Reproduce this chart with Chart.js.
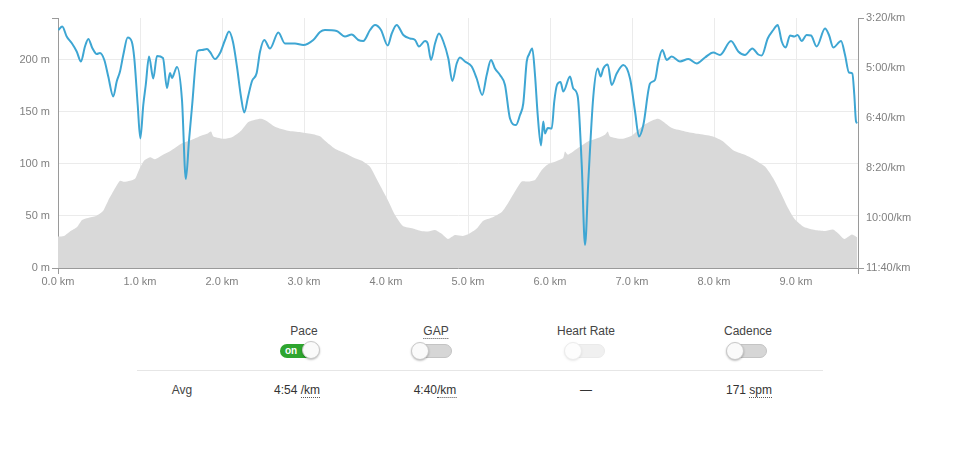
<!DOCTYPE html>
<html>
<head>
<meta charset="utf-8">
<script src="https://cdn.jsdelivr.net/npm/chart.js@4"></script>
<style>
  html,body{margin:0;padding:0;background:#fff;font-family:"Liberation Sans",Arial,sans-serif;}
  #wrap{position:absolute;left:0;top:0;width:962px;height:290px;}
  .lbl{position:absolute;font-size:12px;color:#444;transform:translateX(-50%);white-space:nowrap;top:324px;}
  .val{position:absolute;font-size:12px;color:#333;transform:translateX(-50%);white-space:nowrap;top:383px;}
  .dot{border-bottom:1px dotted #555;}
  .tog{position:absolute;top:344px;width:38px;height:14px;border-radius:8px;transform:translateX(-50%);}
  .knob{position:absolute;top:-3px;width:18px;height:18px;border-radius:50%;background:#fafafa;border:1px solid #c8c8c8;box-shadow:0 1px 2px rgba(0,0,0,0.25);box-sizing:border-box;}
  .off{background:#d6d6d6;border:1px solid #c4c4c4;box-sizing:border-box;}
  .on{background:#2ea52e;}
  .ontxt{position:absolute;left:5px;top:0px;font-size:10px;font-weight:bold;color:#fff;line-height:14px;}
  #sep{position:absolute;left:137px;top:370px;width:686px;height:1px;background:#e6e6e6;}
</style>
</head>
<body>
<div id="wrap"><canvas id="c"></canvas></div>

<div class="lbl" style="left:304px">Pace</div>
<div class="lbl" style="left:436px"><span class="dot">GAP</span></div>
<div class="lbl" style="left:586px">Heart Rate</div>
<div class="lbl" style="left:748px">Cadence</div>

<div class="tog on" style="left:299px"><span class="ontxt">on</span><div class="knob" style="left:22px"></div></div>
<div class="tog off" style="left:433px"><div class="knob" style="left:-4px"></div></div>
<div class="tog off" style="left:586px;opacity:0.35"><div class="knob" style="left:-4px"></div></div>
<div class="tog off" style="left:748px"><div class="knob" style="left:-4px"></div></div>

<div id="sep"></div>

<div class="val" style="left:182px;color:#444">Avg</div>
<div class="val" style="left:297px">4:54 <span class="dot">/km</span></div>
<div class="val" style="left:435px">4:40<span class="dot">/km</span></div>
<div class="val" style="left:586px">—</div>
<div class="val" style="left:749px">171 <span class="dot">spm</span></div>

<script>
// Elevation profile (km, metres)
const elevKm = [0.000,0.073,0.146,0.232,0.293,0.366,0.463,0.549,0.610,0.671,0.756,0.805,0.878,0.939,0.988,1.049,1.122,1.183,1.280,1.366,1.512,1.634,1.744,1.817,1.866,1.896,2.037,2.134,2.232,2.317,2.402,2.476,2.549,2.646,2.805,2.963,3.110,3.195,3.256,3.378,3.500,3.622,3.707,3.805,3.902,4.024,4.110,4.207,4.329,4.427,4.512,4.598,4.683,4.756,4.841,4.939,5.024,5.110,5.183,5.293,5.415,5.488,5.573,5.655,5.732,5.817,5.899,5.976,6.061,6.159,6.183,6.220,6.341,6.463,6.585,6.671,6.704,6.732,6.878,7.000,7.122,7.220,7.317,7.366,7.488,7.646,7.805,7.976,8.098,8.244,8.390,8.500,8.622,8.720,8.826,8.902,8.988,9.098,9.232,9.354,9.451,9.512,9.591,9.683,9.748];
const elevM = [30.3,30.8,35.1,39.4,46.2,48.1,50.0,54.8,64.4,73.1,83.7,82.7,83.7,85.6,94.2,102.9,106.3,104.3,108.7,112.0,119.7,123.1,126.9,128.8,131.1,126.3,124.0,126.0,131.7,139.9,142.3,143.3,140.9,135.6,131.7,130.3,128.4,126.4,122.1,114.4,110.1,105.3,102.9,97.1,83.0,64.9,51.0,40.4,38.0,35.6,35.1,36.5,32.7,27.9,31.7,30.8,33.4,38.2,45.2,48.4,54.1,62.2,73.4,83.0,83.0,84.6,94.2,99.7,101.9,105.5,111.8,108.7,115.1,121.4,124.7,127.9,131.1,126.3,124.0,127.2,135.9,140.7,143.3,141.3,134.3,131.1,128.8,126.4,122.1,112.5,108.2,103.8,97.4,86.3,70.2,57.7,46.6,39.4,36.5,35.6,37.0,33.4,27.9,32.2,29.3];

// Pace (km, seconds per km)
const paceKm = [0.004,0.052,0.106,0.167,0.228,0.280,0.329,0.370,0.418,0.472,0.512,0.565,0.613,0.674,0.716,0.756,0.796,0.850,0.899,0.930,0.972,1.004,1.040,1.070,1.110,1.162,1.207,1.280,1.329,1.366,1.390,1.409,1.451,1.512,1.559,1.598,1.634,1.701,1.756,1.817,1.854,1.915,1.976,2.037,2.085,2.134,2.183,2.232,2.272,2.317,2.366,2.423,2.463,2.516,2.585,2.687,2.768,2.890,2.991,3.113,3.195,3.256,3.399,3.500,3.582,3.662,3.723,3.805,3.866,3.939,4.021,4.070,4.130,4.211,4.293,4.354,4.402,4.476,4.509,4.549,4.598,4.646,4.699,4.760,4.809,4.862,4.902,4.963,5.045,5.106,5.174,5.228,5.280,5.329,5.390,5.451,5.512,5.585,5.634,5.674,5.716,5.744,5.784,5.817,5.850,5.890,5.918,5.939,5.972,6.021,6.052,6.085,6.128,6.162,6.244,6.284,6.338,6.387,6.427,6.467,6.528,6.582,6.618,6.650,6.704,6.752,6.813,6.894,6.976,7.037,7.085,7.138,7.220,7.280,7.321,7.370,7.423,7.484,7.585,7.687,7.789,7.890,7.991,8.073,8.207,8.296,8.378,8.467,8.540,8.582,8.655,8.723,8.777,8.826,8.874,8.927,8.979,9.020,9.069,9.130,9.183,9.252,9.354,9.402,9.455,9.549,9.598,9.646,9.687,9.711,9.732,9.748];
const paceSec = [224,217,237,250,267,287,257,242,260,272,270,284,317,357,327,307,274,239,247,280,374,441,374,334,277,321,276,280,340,310,320,314,298,364,522,444,378,266,264,262,268,282,270,244,227,248,298,358,389,358,326,310,268,244,261,229,251,251,254,244,228,224,226,237,233,244,246,224,214,224,255,231,214,234,241,244,257,246,251,284,251,231,247,281,326,291,279,287,297,321,354,314,284,301,314,334,401,414,394,371,287,273,261,314,394,455,407,431,420,421,367,334,328,347,317,341,357,494,654,527,357,301,317,301,293,334,311,294,321,387,437,414,331,324,288,264,284,277,287,282,291,279,269,274,246,267,274,261,273,275,241,224,214,247,259,235,237,234,246,234,235,257,221,234,259,246,274,309,311,354,407,410];

const distMax = 9.756;
const elevMax = 240;
const paceTop = 200, paceBottom = 700;

function fmtPace(s){ const m=Math.floor(s/60), r=Math.round(s%60); return m+':'+String(r).padStart(2,'0')+'/km'; }

const axisColor = '#9a9a9a';
const gridColor = '#ebebeb';
const tickFont = {family:'"Liberation Sans", Arial, sans-serif', size:11};
const tickColor = '#808080';

const outerTicks = {
  id:'outerTicks',
  afterDraw(chart){
    const a = chart.chartArea, ctx = chart.ctx;
    ctx.save();
    ctx.strokeStyle = axisColor; ctx.lineWidth = 1;
    ctx.beginPath();
    ctx.moveTo(a.left-6, a.top+0.5); ctx.lineTo(a.left, a.top+0.5);
    ctx.moveTo(a.left-6, a.bottom+0.5); ctx.lineTo(a.left, a.bottom+0.5);
    ctx.moveTo(a.right, a.top+0.5); ctx.lineTo(a.right+6, a.top+0.5);
    ctx.moveTo(a.right, a.bottom+0.5); ctx.lineTo(a.right+6, a.bottom+0.5);
    ctx.moveTo(a.left+0.5, a.bottom); ctx.lineTo(a.left+0.5, a.bottom+6);
    ctx.moveTo(a.right+0.5, a.bottom); ctx.lineTo(a.right+0.5, a.bottom+6);
    ctx.stroke();
    ctx.restore();
  }
};

new Chart(document.getElementById('c'), {
  type:'line',
  data:{
    datasets:[
      {
        label:'Pace',
        data: paceKm.map((k,i)=>({x:k,y:paceSec[i]})),
        yAxisID:'yPace',
        borderColor:'#3ea6d3',
        borderWidth:2,
        pointRadius:0,
        fill:false,
        tension:0.35,
        cubicInterpolationMode:'monotone',
        order:0
      },
      {
        label:'Elevation',
        data: elevKm.map((k,i)=>({x:k,y:elevM[i]})),
        yAxisID:'yElev',
        borderWidth:0,
        borderColor:'rgba(0,0,0,0)',
        backgroundColor:'#d9d9d9',
        pointRadius:0,
        fill:'origin',
        tension:0.2,
        order:1
      }
    ]
  },
  options:{
    responsive:true,
    maintainAspectRatio:false,
    animation:false,
    layout:{padding:{top:18,left:0,right:0,bottom:0}},
    plugins:{legend:{display:false},tooltip:{enabled:false}},
    scales:{
      x:{
        type:'linear', min:0, max:distMax,
        border:{color:axisColor},
        grid:{color:gridColor, drawTicks:false},
        ticks:{stepSize:1, includeBounds:false, padding:7, font:tickFont, color:tickColor, maxRotation:0,
               callback:v=>v.toFixed(1)+' km'},
        afterFit(s){ s.height = 22; }
      },
      yElev:{
        position:'left', min:0, max:elevMax,
        border:{color:axisColor},
        grid:{color:gridColor, drawTicks:false},
        ticks:{stepSize:50, includeBounds:false, padding:8, font:tickFont, color:tickColor,
               callback:v=>v+' m'},
        afterFit(s){ s.width = 58; }
      },
      yPace:{
        position:'right', reverse:true, min:paceTop, max:paceBottom,
        border:{color:axisColor},
        grid:{drawOnChartArea:false, drawTicks:false},
        ticks:{stepSize:100, padding:8, font:tickFont, color:tickColor,
               callback:v=>fmtPace(v)},
        afterFit(s){ s.width = 104; }
      }
    }
  },
  plugins:[outerTicks]
});
</script>
</body>
</html>
